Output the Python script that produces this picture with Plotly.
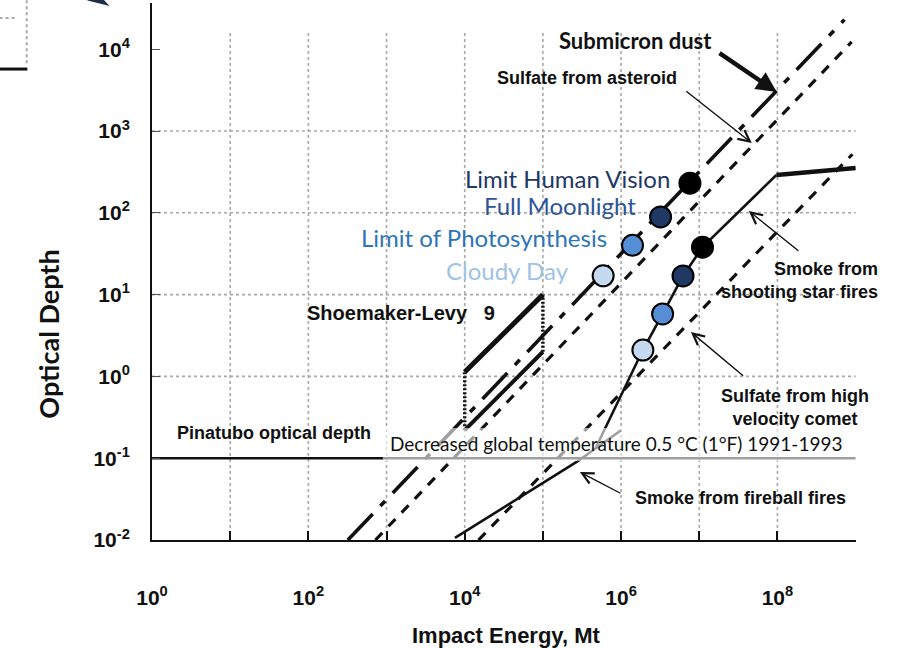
import plotly.graph_objects as go

# ---------------- data ----------------
x_grid_decades = [1e1, 1e2, 1e3, 1e4, 1e5, 1e6, 1e7, 1e8]
y_grid_decades = [1e0, 1e1, 1e2, 1e3]
x_tick_vals = [1e0, 1e2, 1e4, 1e6, 1e8]
x_tick_text = ["10<sup>0</sup>", "10<sup>2</sup>", "10<sup>4</sup>", "10<sup>6</sup>", "10<sup>8</sup>"]
x_minor_vals = [1e1, 1e3, 1e5, 1e7, 1e9]
y_tick_vals = [1e-2, 1e-1, 1e0, 1e1, 1e2, 1e3, 1e4]
y_tick_text = ["10<sup>-2</sup>", "10<sup>-1</sup>", "10<sup>0</sup>", "10<sup>1</sup>",
               "10<sup>2</sup>", "10<sup>3</sup>", "10<sup>4</sup>"]

submicron_x = [3.2e2, 7.2e8]
submicron_y = [1.0e-2, 2.3e4]
asteroid_x = [7.2e2, 8.9e8]
asteroid_y = [1.0e-2, 1.23e4]
comet_x = [1.5e4, 9.1e8]
comet_y = [1.0e-2, 5.2e2]
fireball_x = [7.5e3, 9.2e4, 2.7e5, 1.0e6]
fireball_y = [1.06e-2, 4.7e-2, 9.0e-2, 2.2e-1]
shooting_x = [4.8e5, 1.9e6, 3.4e6, 6.2e6, 1.1e7, 9.7e7]
shooting_y = [0.137, 2.1, 5.8, 16.9, 38.0, 290.0]
plateau_x = [9.7e7, 1.0e9]
plateau_y = [290.0, 353.0]
sl9_x = [1e4, 1e5]
sl9_top_y = [1.13, 10.0]
sl9_bottom_y = [0.22, 2.0]
pinatubo_x = [1e0, 1e9]
pinatubo_y = [0.1, 0.1]

threshold_labels = ["Cloudy Day", "Limit of Photosynthesis", "Full Moonlight", "Limit Human Vision"]
threshold_fill = ["#C5D9F1", "#558ED5", "#1F3864", "#000000"]
threshold_text_color = ["#9DC3E6", "#2E75B6", "#2F5597", "#1F3864"]
upper_x = [5.9e5, 1.4e6, 3.2e6, 7.6e6]
upper_y = [17.0, 40.0, 89.0, 230.0]
lower_x = [1.9e6, 3.4e6, 6.2e6, 1.1e7]
lower_y = [2.1, 5.8, 16.9, 38.0]

# ---------------- figure ----------------
fig = go.Figure()
GRID = dict(color="#a8a8a8", width=1.6, dash="dot")

for gx in x_grid_decades:
    fig.add_trace(go.Scatter(x=[gx, gx], y=[1e-2, 1.6e4], mode="lines", line=GRID, hoverinfo="skip"))
for gy in y_grid_decades:
    fig.add_trace(go.Scatter(x=[1e0, 1e9], y=[gy, gy], mode="lines", line=GRID, hoverinfo="skip"))

BLACK = "#111111"
fig.add_trace(go.Scatter(x=pinatubo_x, y=pinatubo_y, mode="lines", line=dict(color=BLACK, width=2.6)))
fig.add_trace(go.Scatter(x=submicron_x, y=submicron_y, mode="lines",
                         line=dict(color=BLACK, width=3.6, dash="36px,11px,7px,11px")))
fig.add_trace(go.Scatter(x=asteroid_x, y=asteroid_y, mode="lines",
                         line=dict(color=BLACK, width=3.2, dash="10px,9px")))
fig.add_trace(go.Scatter(x=comet_x, y=comet_y, mode="lines",
                         line=dict(color=BLACK, width=3.2, dash="10px,9px")))
fig.add_trace(go.Scatter(x=fireball_x, y=fireball_y, mode="lines", line=dict(color=BLACK, width=2.6)))
fig.add_trace(go.Scatter(x=shooting_x, y=shooting_y, mode="lines", line=dict(color=BLACK, width=2.6)))
fig.add_trace(go.Scatter(x=plateau_x, y=plateau_y, mode="lines", line=dict(color=BLACK, width=4.5)))
# Shoemaker-Levy 9 box
fig.add_trace(go.Scatter(x=sl9_x, y=sl9_top_y, mode="lines", line=dict(color=BLACK, width=5)))
fig.add_trace(go.Scatter(x=sl9_x, y=sl9_bottom_y, mode="lines", line=dict(color=BLACK, width=4)))
for i in range(2):
    fig.add_trace(go.Scatter(x=[sl9_x[i], sl9_x[i]], y=[sl9_bottom_y[i], sl9_top_y[i]], mode="lines",
                             line=dict(color=BLACK, width=3.5, dash="2px,2px")))
# threshold circles
for xs, ys in ((upper_x, upper_y), (lower_x, lower_y)):
    fig.add_trace(go.Scatter(x=xs, y=ys, mode="markers",
                             marker=dict(size=21, color=threshold_fill, line=dict(color="#000", width=2))))

# ---------------- text ----------------
SCAN = dict(family="Liberation Sans, Arial", size=18, color=BLACK, weight="bold")
CAL = "Lato, Open Sans"
ann = []

def txt(text, lx, ly, font, xanchor="center", align="center"):
    ann.append(dict(text=text, x=lx, y=ly, xref="x", yref="y", showarrow=False,
                    xanchor=xanchor, yanchor="middle", align=align, font=font))

def arrow(tail, tip, width=1.4, head=5, size=1.6):
    ann.append(dict(text="", x=tip[0], y=tip[1], ax=tail[0], ay=tail[1], xref="x", yref="y",
                    axref="x", ayref="y", showarrow=True, arrowhead=head, arrowsize=size,
                    arrowwidth=width, arrowcolor=BLACK))

txt("Submicron dust", 6.19, 4.11, dict(family=CAL, size=22, color=BLACK, weight="bold"))
arrow((7.24, 3.966), (7.99, 3.477), width=4.5, head=2, size=0.9)
txt("Sulfate from asteroid", 5.57, 3.648, SCAN)
arrow((6.815, 3.50), (7.672, 2.853))
txt(threshold_labels[3], 6.65, 2.425, dict(family=CAL, size=24, color=threshold_text_color[3]), "right")
txt(threshold_labels[2], 6.215, 2.095, dict(family=CAL, size=24, color=threshold_text_color[2]), "right")
txt(threshold_labels[1], 5.84, 1.704, dict(family=CAL, size=24, color=threshold_text_color[1]), "right")
txt(threshold_labels[0], 5.357, 1.30, dict(family=CAL, size=24, color=threshold_text_color[0]), "right")
txt("Shoemaker-Levy\u00a0\u00a0\u00a09", 1.953, 0.775, dict(SCAN, size=20), "left")
ann.append(dict(text="Smoke from<br>shooting star fires", x=1.0345, y=0.484, xref="paper", yref="paper",
                showarrow=False, xanchor="right", yanchor="middle", align="right", font=SCAN))
arrow((8.287, 1.521), (7.634, 2.022))
txt("Sulfate from high<br>velocity comet", 8.22, -0.38, SCAN)
arrow((7.58, -0.007), (6.893, 0.543))
txt("Pinatubo optical depth", 0.29, -0.692, SCAN, "left")
txt("Decreased global temperature 0.5 °C (1°F) 1991-1993", 5.934, -0.825,
    dict(family=CAL, size=19, color=BLACK))
txt("Smoke from fireball fires", 7.53, -1.487, SCAN)
arrow((6.011, -1.438), (5.473, -1.169))

# axis titles
ann.append(dict(text="Optical Depth", x=-0.1735, y=0.383, xref="paper", yref="paper", showarrow=False,
                textangle=-90, font=dict(family=CAL, size=27, color=BLACK, weight="bold")))
ann.append(dict(text="Impact Energy, Mt", x=0.503, y=-0.178, xref="paper", yref="paper", showarrow=False,
                yanchor="middle", font=dict(family="Liberation Sans, Arial", size=22, color=BLACK, weight="bold")))

shapes = [
    # faded band behind the temperature note
    dict(type="rect", xref="paper", yref="paper", x0=0.328, x1=1.0, y0=0.147, y1=0.2086,
         fillcolor="rgba(255,255,255,0.6)", line=dict(width=0), layer="above"),
    # cropped fragments at the top-left edge of the picture
    dict(type="line", xref="paper", yref="paper", x0=-0.178, x1=-0.178, y0=0.888, y1=1.006,
         line=dict(color="#a8a8a8", width=2, dash="dot")),
    dict(type="line", xref="paper", yref="paper", x0=-0.2165, x1=-0.193, y0=0.972, y1=0.972,
         line=dict(color="#a8a8a8", width=2, dash="dot")),
    dict(type="line", xref="paper", yref="paper", x0=-0.2165, x1=-0.177, y0=0.877, y1=0.877,
         line=dict(color=BLACK, width=3)),
    dict(type="path", xref="paper", yref="paper",
         path="M -0.0915 1.006 L -0.0635 0.997 L -0.0700 1.006 Z",
         fillcolor="#1F2D4A", line=dict(color="#1F2D4A", width=1.5)),
]

TICKFONT = dict(family="Liberation Sans, Arial", size=21, color=BLACK, weight="bold")
fig.update_layout(
    width=905, height=648,
    margin=dict(l=152, r=49, t=3, b=108),
    plot_bgcolor="white", paper_bgcolor="white",
    showlegend=False,
    annotations=ann, shapes=shapes,
    xaxis=dict(type="log", range=[0, 9.005], showgrid=False, zeroline=False,
               showline=True, linecolor=BLACK, linewidth=2,
               ticks="inside", ticklen=9, tickwidth=1.5, tickcolor=BLACK,
               tickvals=x_tick_vals, ticktext=x_tick_text, ticklabelstandoff=38,
               minor=dict(tickvals=x_minor_vals, ticks="inside", ticklen=9, tickwidth=1.5,
                          tickcolor=BLACK, showgrid=False),
               tickfont=TICKFONT),
    yaxis=dict(type="log", range=[-2, 4.565], showgrid=False, zeroline=False,
               showline=True, linecolor=BLACK, linewidth=2,
               ticks="inside", ticklen=8, tickwidth=1.2, tickcolor="#555",
               tickvals=y_tick_vals, ticktext=y_tick_text, ticklabelstandoff=16,
               tickfont=TICKFONT),
)

fig.write_html("out.html")
